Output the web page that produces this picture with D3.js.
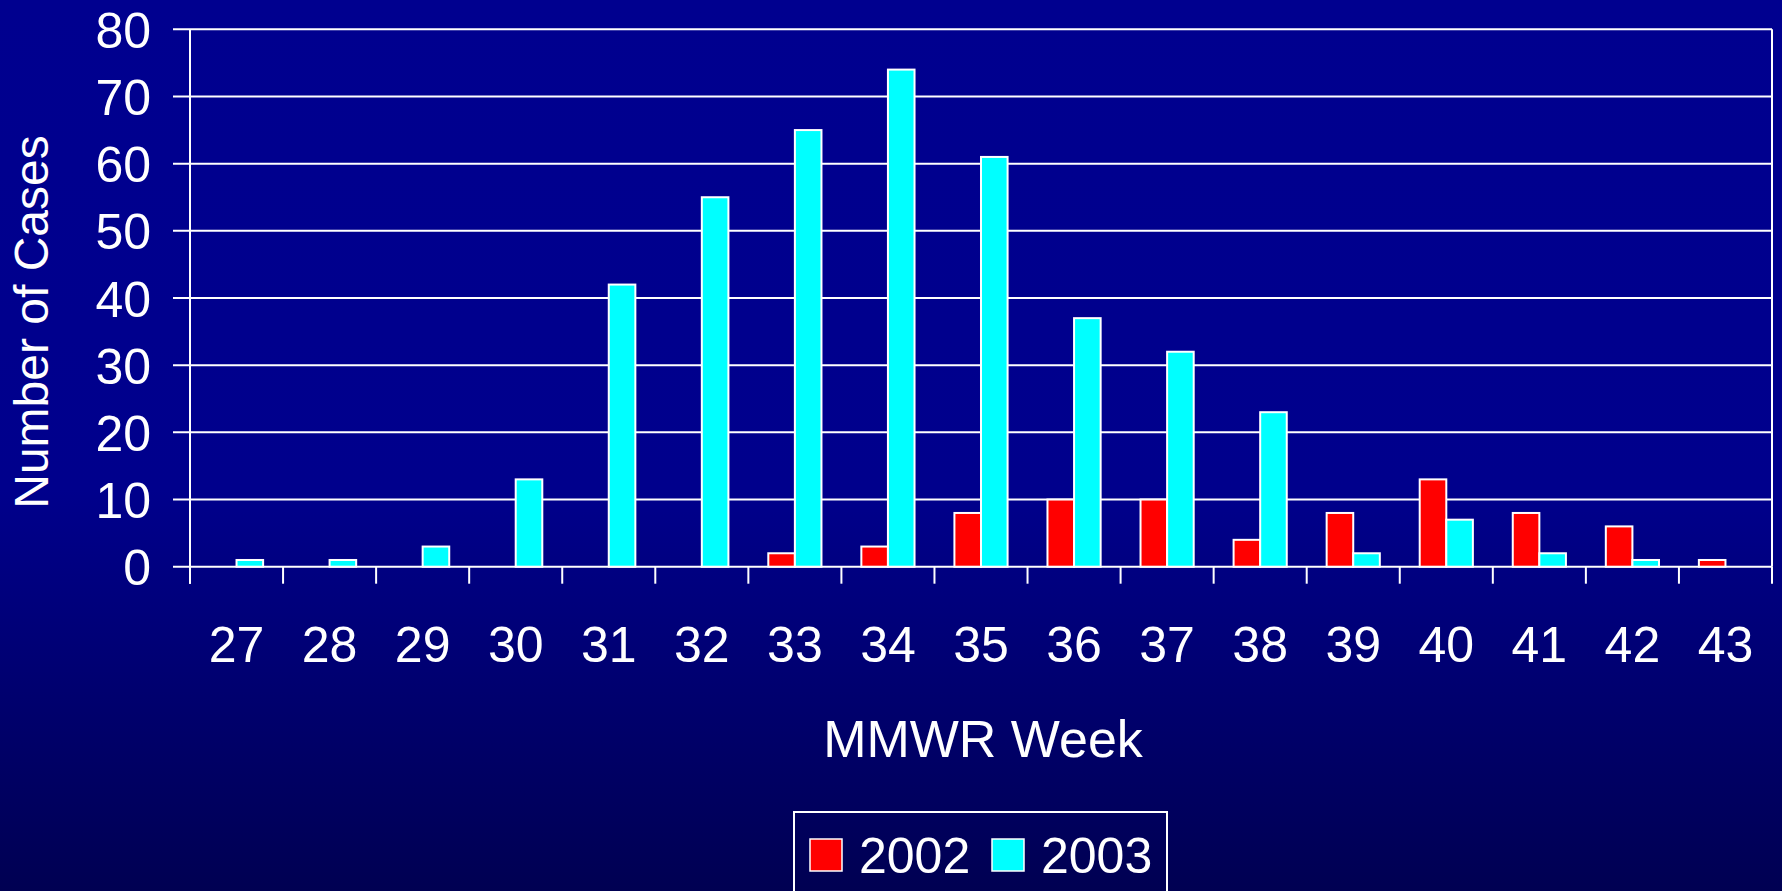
<!DOCTYPE html>
<html>
<head>
<meta charset="utf-8">
<script src="https://cdn.jsdelivr.net/npm/d3@7"></script>
<style>
html,body{margin:0;padding:0;background:#000080;overflow:hidden;}
svg{display:block;}
text{font-family:"Liberation Sans",Arial,sans-serif;fill:#fff;}
</style>
</head>
<body>
<svg id="chart" width="1782" height="891"></svg>
<script>
const weeks = ["27","28","29","30","31","32","33","34","35","36","37","38","39","40","41","42","43"];
const cases2002 = [0,0,0,0,0,0,2,3,8,10,10,4,8,13,8,6,1];
const cases2003 = [1,1,3,13,42,55,65,74,61,37,32,23,2,7,2,1,0];
const seriesNames = ["2002","2003"];
const seriesColors = ["#ff0000","#00ffff"];
const yTicks = [0,10,20,30,40,50,60,70,80];

const W = 1782, H = 891;
const m = {left:190, right:10, top:29.3, bottom:324.3};
const svg = d3.select("#chart");

const defs = svg.append("defs");
const grad = defs.append("linearGradient").attr("id","bg").attr("x1",0).attr("y1",0).attr("x2",0).attr("y2",1);
grad.append("stop").attr("offset","0%").attr("stop-color","rgb(0,0,143)");
grad.append("stop").attr("offset","55%").attr("stop-color","rgb(0,0,140)");
grad.append("stop").attr("offset","100%").attr("stop-color","rgb(0,0,82)");
svg.append("rect").attr("width",W).attr("height",H).attr("fill","url(#bg)");

const x0 = d3.scaleBand().domain(weeks).range([m.left, W - m.right]);
const bw = x0.bandwidth() / 3.5;
const x1 = d3.scaleBand().domain(seriesNames).range([0, 2*bw]);
const y = d3.scaleLinear().domain([0,80]).range([H - m.bottom, m.top]);

// gridlines
svg.append("g").selectAll("line").data(yTicks).join("line")
  .attr("x1", m.left - 17).attr("x2", W - m.right)
  .attr("y1", d => y(d)).attr("y2", d => y(d))
  .attr("stroke","#fff").attr("stroke-width",2);

// right border
svg.append("line").attr("x1", W - m.right).attr("x2", W - m.right)
  .attr("y1", y(80)).attr("y2", y(0)).attr("stroke","#fff").attr("stroke-width",2);

// y axis labels
const yAxis = d3.axisLeft(y).tickValues(yTicks).tickSize(0).tickPadding(39);
const gy = svg.append("g").attr("transform", `translate(${m.left},0)`).call(yAxis);
gy.select(".domain").remove();
gy.selectAll("text").style("font-size","50px").attr("fill","#fff").attr("font-family","Liberation Sans, Arial, sans-serif").attr("dy","0.36em");
svg.append("line").attr("x1", m.left).attr("x2", m.left).attr("y1", y(80)).attr("y2", y(0)+17)
  .attr("stroke","#fff").attr("stroke-width",2);

// x ticks at category boundaries
const bounds = weeks.map(w => x0(w)).concat([W - m.right]);
svg.append("g").selectAll("line").data(bounds).join("line")
  .attr("x1", d => d).attr("x2", d => d)
  .attr("y1", y(0)).attr("y2", y(0) + 17)
  .attr("stroke","#fff").attr("stroke-width",2);

// x labels via axis
const xAxis = d3.axisBottom(x0).tickSize(0).tickPadding(60);
const gx = svg.append("g").attr("transform", `translate(0,${y(0)})`).call(xAxis);
gx.select(".domain").remove();
gx.selectAll("text").style("font-size","50px").attr("fill","#fff").attr("font-family","Liberation Sans, Arial, sans-serif").attr("dy","0.71em");

// bars
const data = weeks.map((w,i) => ({week:w, vals:[cases2002[i], cases2003[i]]}));
const groups = svg.append("g").selectAll("g").data(data).join("g")
  .attr("transform", d => `translate(${x0(d.week) + x0.bandwidth()/2 - bw},0)`);
groups.selectAll("rect").data(d => d.vals.map((v,j) => ({v, s:seriesNames[j], c:seriesColors[j]})).filter(e => e.v > 0))
  .join("rect")
  .attr("x", d => x1(d.s))
  .attr("width", x1.bandwidth())
  .attr("y", d => y(d.v))
  .attr("height", d => y(0) - y(d.v))
  .attr("fill", d => d.c)
  .attr("stroke","#fff").attr("stroke-width",2);

// axis titles
svg.append("text").attr("transform", `translate(48,${(y(0)+y(80))/2 + 24}) rotate(-90)`)
  .attr("text-anchor","middle").style("font-size","48px").text("Number of Cases");
svg.append("text").attr("x", (m.left + W - m.right)/2 + 2).attr("y", 757)
  .attr("text-anchor","middle").style("font-size","52px").text("MMWR Week");

// legend
const lg = svg.append("g");
lg.append("rect").attr("x",794).attr("y",812).attr("width",373).attr("height",110)
  .attr("fill","none").attr("stroke","#fff").attr("stroke-width",2);
const items = [{name:seriesNames[0], color:seriesColors[0], sx:810, tx:859},
               {name:seriesNames[1], color:seriesColors[1], sx:992, tx:1041}];
items.forEach(it => {
  lg.append("rect").attr("x", it.sx).attr("y", 839).attr("width", 32).attr("height", 32)
    .attr("fill", it.color).attr("stroke","#fff").attr("stroke-width",1.5);
  lg.append("text").attr("x", it.tx).attr("y", 873).style("font-size","50px").text(it.name);
});
</script>
</body>
</html>
